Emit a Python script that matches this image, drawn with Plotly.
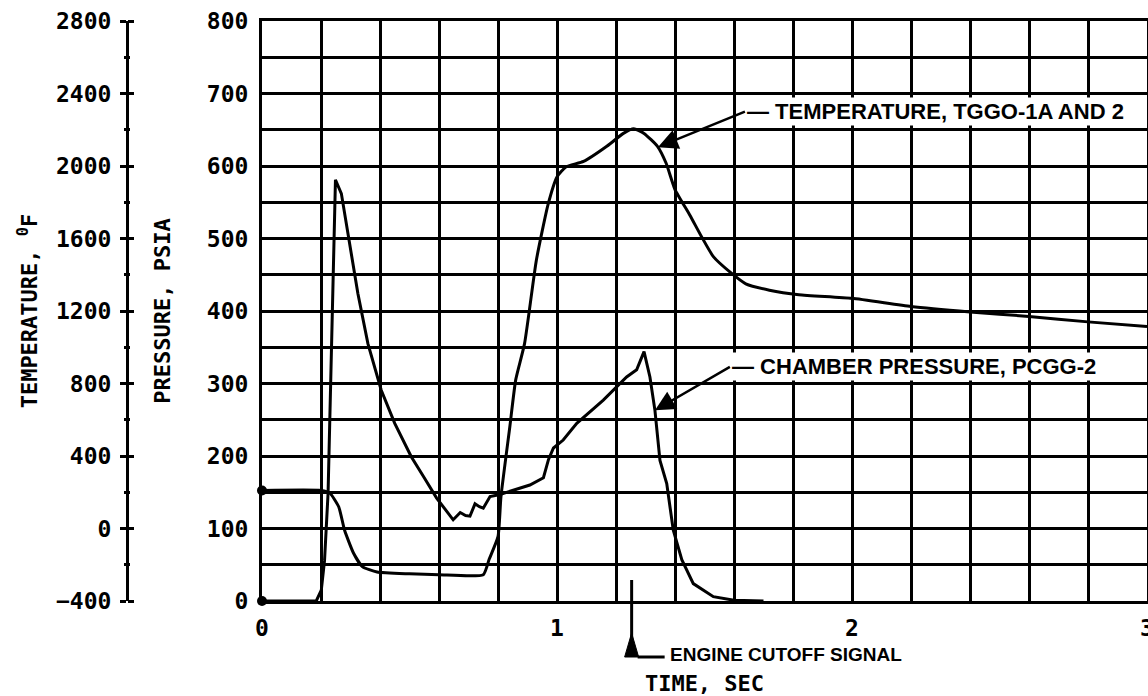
import plotly.graph_objects as go

# ---------------- data ----------------
TIME_TICKS = [0, 1, 2, 3]
TIME_TICK_TEXT = ["0", "1", "2", "3"]
PRESSURE_TICKS = [0, 100, 200, 300, 400, 500, 600, 700, 800]
TEMP_TICKS = [-400, 0, 400, 800, 1200, 1600, 2000, 2400, 2800]

# Chamber pressure PCGG-2 (psia)
PRESS_TIME = [0.0, 0.184, 0.201, 0.212, 0.224, 0.235, 0.244, 0.249, 0.269, 0.297,
              0.325, 0.359, 0.404, 0.45, 0.506, 0.55, 0.592, 0.648, 0.672, 0.69,
              0.705, 0.722, 0.737, 0.75, 0.773, 0.807, 0.852, 0.908, 0.954, 0.971,
              0.988, 1.021, 1.067, 1.157, 1.236, 1.27, 1.295, 1.315, 1.332, 1.349,
              1.372, 1.394, 1.423, 1.462, 1.53, 1.6, 1.7]
PRESS_PSIA = [0, 0, 15, 56, 149, 332, 470, 581, 562, 493,
              424, 355, 291, 245, 199, 170, 142, 112, 122, 118,
              117, 134, 130, 128, 144, 147, 153, 160, 170, 195,
              211, 222, 245, 277, 309, 319, 344, 309, 263, 194,
              162, 98, 57, 24, 6, 1, 0]

# Gas generator temperature TGGO-1A and 2 (deg F)
TEMP_TIME = [0.0, 0.20, 0.23, 0.26, 0.28, 0.31, 0.34, 0.39, 0.50, 0.60,
             0.75, 0.77, 0.80, 0.81, 0.84, 0.86, 0.89, 0.93, 0.97, 1.00,
             1.03, 1.09, 1.17, 1.225, 1.26, 1.295, 1.34, 1.37, 1.40, 1.45,
             1.49, 1.53, 1.59, 1.64, 1.72, 1.82, 2.0, 2.2, 2.4, 2.6,
             2.8, 3.0]
TEMP_F = [210, 210, 195, 120, -10, -135, -210, -240, -250, -255,
          -255, -170, -45, 175, 560, 820, 1020, 1480, 1790, 1940,
          1995, 2025, 2110, 2180, 2205, 2180, 2110, 2015, 1870, 1730,
          1610, 1500, 1410, 1350, 1315, 1290, 1270, 1225, 1195, 1170,
          1140, 1115]

CUTOFF_TIME = 1.253

# callout geometry (time, psia): arrow tip on the curve, tail where the label begins
TEMP_ARROW_TIP = (1.342, 626)
TEMP_ARROW_TAIL = (1.637, 675)
PC_ARROW_TIP = (1.332, 263)
PC_ARROW_TAIL = (1.586, 323)

W, H = 1148, 696
ML, MR, MT, MB = 0, 1, 21, 95
PLOT_LEFT = 262
PAPER_W = W - ML - MR
TEMP_AXIS_X = 127

MONO = "DejaVu Sans Mono"
SANS = "Liberation Sans, Arial, sans-serif"
BLACK = "black"
GRID_W = 2.5

fig = go.Figure()
fig.add_trace(go.Scatter(x=PRESS_TIME, y=PRESS_PSIA, mode="lines",
                         line=dict(color=BLACK, width=3), yaxis="y",
                         name="CHAMBER PRESSURE, PCGG-2", showlegend=False))
fig.add_trace(go.Scatter(x=TEMP_TIME, y=TEMP_F, mode="lines",
                         line=dict(color=BLACK, width=3, shape="spline", smoothing=0.5),
                         yaxis="y2", name="TEMPERATURE, TGGO-1A AND 2", showlegend=False))
fig.add_trace(go.Scatter(x=PRESS_TIME[:1], y=PRESS_PSIA[:1], mode="markers",
                         marker=dict(color=BLACK, size=10), yaxis="y",
                         cliponaxis=False, showlegend=False))
fig.add_trace(go.Scatter(x=TEMP_TIME[:1], y=TEMP_F[:1], mode="markers",
                         marker=dict(color=BLACK, size=10), yaxis="y2",
                         cliponaxis=False, showlegend=False))
fig.add_trace(go.Scatter(x=[], y=[], yaxis="y3", showlegend=False, hoverinfo="skip"))

tick_font = dict(family=MONO, size=23, color=BLACK, weight="bold")
title_font = dict(family=MONO, size=22, color=BLACK, weight="bold")
label_font = dict(family=SANS, size=22, color=BLACK, weight="bold")

fig.update_layout(
    width=W, height=H,
    margin=dict(l=ML, r=MR, t=MT, b=MB, autoexpand=False),
    paper_bgcolor="white", plot_bgcolor="white",
    showlegend=False,
    xaxis=dict(
        domain=[PLOT_LEFT / PAPER_W, 1], range=[0, 3],
        tickmode="array", tickvals=TIME_TICKS, ticktext=TIME_TICK_TEXT,
        ticks="", ticklabelstandoff=4, tickfont=tick_font, ticklabeloverflow="allow",
        showgrid=True, gridcolor=BLACK, gridwidth=GRID_W,
        minor=dict(tick0=0, dtick=0.2, showgrid=True, gridcolor=BLACK, gridwidth=GRID_W),
        showline=True, linecolor=BLACK, linewidth=3, mirror=True, zeroline=False,
        title=dict(text="TIME, SEC", font=title_font, standoff=37),
    ),
    yaxis=dict(
        range=[0, 800], tickmode="array", tickvals=PRESSURE_TICKS,
        ticks="", ticklabelstandoff=6, tickfont=tick_font,
        showgrid=True, gridcolor=BLACK, gridwidth=GRID_W,
        minor=dict(tick0=0, dtick=50, showgrid=True, gridcolor=BLACK, gridwidth=GRID_W),
        showline=True, linecolor=BLACK, linewidth=3, mirror=True, zeroline=False,
        title=dict(text="PRESSURE, PSIA", font=title_font, standoff=31),
    ),
    yaxis2=dict(
        overlaying="y", anchor="free", position=TEMP_AXIS_X / PAPER_W, side="left",
        range=[-400, 2800], tickmode="array", tickvals=TEMP_TICKS,
        ticks="outside", ticklen=6, tickwidth=3, tickcolor=BLACK,
        ticklabelstandoff=4, tickfont=tick_font,
        minor=dict(tick0=-400, dtick=200, ticks="outside", ticklen=2, tickwidth=3, tickcolor=BLACK),
        showgrid=False, zeroline=False,
        showline=True, linecolor=BLACK, linewidth=3,
        title=dict(text="TEMPERATURE, <sup>0</sup>F", font=title_font, standoff=11),
    ),
    yaxis3=dict(
        overlaying="y", anchor="free", position=TEMP_AXIS_X / PAPER_W, side="right",
        range=[-400, 2800], tickmode="array", tickvals=TEMP_TICKS,
        ticks="outside", ticklen=6, tickwidth=3, tickcolor=BLACK,
        minor=dict(tick0=-400, dtick=200, ticks="outside", ticklen=2, tickwidth=3, tickcolor=BLACK),
        showticklabels=False, showgrid=False, zeroline=False, showline=False,
    ),
)

# callout labels with their arrows (label box starts at the arrow tail)
for tip, tail, text in [
    (TEMP_ARROW_TIP, TEMP_ARROW_TAIL, "\u2014 TEMPERATURE, TGGO-1A AND 2"),
    (PC_ARROW_TIP, PC_ARROW_TAIL, "\u2014 CHAMBER PRESSURE, PCGG-2"),
]:
    fig.add_annotation(x=tip[0], y=tip[1], xref="x", yref="y",
                       ax=tail[0], ay=tail[1], axref="x", ayref="y", text=text,
                       xanchor="left", yanchor="middle",
                       bgcolor="white", borderpad=1, font=label_font,
                       showarrow=True, arrowhead=2, arrowsize=1.6, arrowwidth=2.5,
                       arrowcolor=BLACK)

# engine cutoff signal marker
fig.add_shape(type="line", xref="x", yref="paper", x0=CUTOFF_TIME, x1=CUTOFF_TIME,
              ysizemode="pixel", yanchor=0, y0=21, y1=-40,
              line=dict(color=BLACK, width=3))
fig.add_shape(type="path", xref="x", yref="paper", xsizemode="pixel", xanchor=CUTOFF_TIME,
              ysizemode="pixel", yanchor=0, path="M 0,-32 L -7,-56 L 7,-56 Z",
              fillcolor=BLACK, line=dict(color=BLACK, width=1))
fig.add_shape(type="line", xref="x", yref="paper", xsizemode="pixel", xanchor=CUTOFF_TIME,
              ysizemode="pixel", yanchor=0, x0=6, x1=33, y0=-56, y1=-56,
              line=dict(color=BLACK, width=3))
fig.add_annotation(x=CUTOFF_TIME, y=0, xref="x", yref="paper", xshift=36, yshift=-53,
                   text="ENGINE CUTOFF SIGNAL", showarrow=False, xanchor="left",
                   yanchor="middle", font=dict(family=SANS, size=19, color=BLACK, weight="bold"))

fig.write_html("out.html",
               config={"displayModeBar": False},
               post_script="document.body.style.margin='0';"
                           "document.documentElement.style.overflow='hidden';")
